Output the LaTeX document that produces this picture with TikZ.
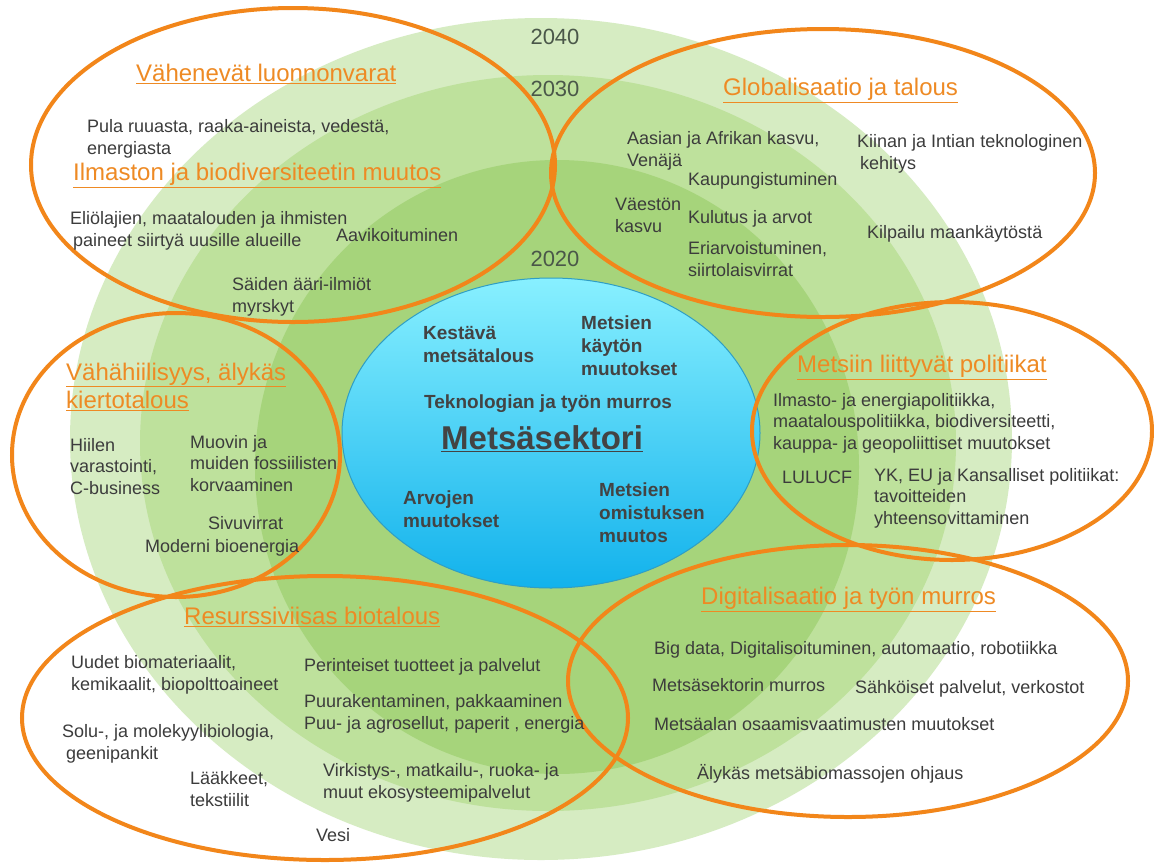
\documentclass[tikz,border=0pt]{standalone}
\usepackage{fontspec}
\setmainfont{Liberation Sans}
\definecolor{gA}{HTML}{D6ECC2}
\definecolor{gB}{HTML}{BEE19C}
\definecolor{gC}{HTML}{A6D47B}
\definecolor{orng}{HTML}{F2861A}
\definecolor{ttlc}{HTML}{EE8A24}
\definecolor{txtc}{HTML}{3C3C3C}
\definecolor{bldc}{HTML}{434343}
\definecolor{yrc}{HTML}{4A5749}
\definecolor{bTop}{HTML}{88F0FF}
\definecolor{bMid}{HTML}{4FD2F7}
\definecolor{bBot}{HTML}{12B2EC}
\definecolor{bEdge}{HTML}{2F9EC4}
\begin{document}
\begin{tikzpicture}[x=1pt,y=-1pt,
  txt/.style={font=\fontsize{18}{21.5}\selectfont, text=txtc, align=left, inner sep=0pt, anchor=base west},
  ttl/.style={font=\fontsize{24}{28.5}\selectfont, text=ttlc, align=left, inner sep=0pt, anchor=base west},
  bld/.style={font=\bfseries\fontsize{19}{23}\selectfont, text=bldc, align=left, inner sep=0pt, anchor=base west},
  yr/.style={font=\fontsize{22}{22}\selectfont, text=yrc, inner sep=0pt, anchor=base},
  ring/.style={draw=orng, line width=4pt},
]
\useasboundingbox (0,0) rectangle (1154,863);
\fill[white] (0,0) rectangle (1154,863);
% time horizons
\fill[gA] (541,439) ellipse [x radius=471pt, y radius=421pt];
\fill[gB] (548,443) ellipse [x radius=408pt, y radius=368pt];
\fill[gC] (557,467) ellipse [x radius=302pt, y radius=307pt];
% core
\shadedraw[top color=bTop, middle color=bMid, bottom color=bBot, draw=bEdge, line width=1pt]
  (551,433) ellipse [x radius=209pt, y radius=155pt];
\node[yr] (y40) at (555,44) {2040};
\node[yr] (y30) at (555,96) {2030};
\node[yr] (y20) at (555,266) {2020};
% theme rings
\draw[ring] (293,165) ellipse [x radius=262pt, y radius=157pt];
\draw[ring] (823,173) ellipse [x radius=272pt, y radius=144pt];
\draw[ring] (176,455) ellipse [x radius=164pt, y radius=142pt];
\draw[ring] (952,431) ellipse [x radius=200pt, y radius=129pt];
\draw[ring] (325,718) ellipse [x radius=303pt, y radius=142pt];
\draw[ring] (848,681) ellipse [x radius=280pt, y radius=136pt];
% titles (base = baseline of last line)
\node[ttl] (t1) at (136,81.5) {\underline{Vähenevät luonnonvarat}};
\node[ttl] (t2) at (73,180.5) {\underline{Ilmaston ja biodiversiteetin muutos}};
\node[ttl] (t3) at (723,95.5) {\underline{Globalisaatio ja talous}};
\node[ttl] (t4) at (66,408.5) {\underline{Vähähiilisyys, älykäs}\\\underline{kiertotalous}};
\node[ttl] (t5) at (797,372.5) {\underline{Metsiin liittyvät politiikat}};
\node[ttl] (t6) at (184,624.5) {\underline{Resurssiviisas biotalous}};
\node[ttl] (t7) at (701,604.5) {\underline{Digitalisaatio ja työn murros}};
% top-left
\node[txt] (a1) at (87,154) {Pula ruuasta, raaka-aineista, vedestä,\\energiasta};
\node[txt] (a2) at (70,246) {Eliölajien, maatalouden ja ihmisten\\\hspace*{3pt}paineet siirtyä uusille alueille};
\node[txt] (a3) at (336,241) {Aavikoituminen};
\node[txt] (a4) at (232,312) {Säiden ääri-ilmiöt\\myrskyt};
% top-right
\node[txt] (b1) at (627,166) {Aasian ja Afrikan kasvu,\\Venäjä};
\node[txt] (b2) at (857,169) {Kiinan ja Intian teknologinen\\\hspace*{3pt}kehitys};
\node[txt] (b3) at (688,185) {Kaupungistuminen};
\node[txt] (b4) at (615,232) {Väestön\\kasvu};
\node[txt] (b5) at (688,223) {Kulutus ja arvot};
\node[txt] (b6) at (688,276) {Eriarvoistuminen,\\siirtolaisvirrat};
\node[txt] (b7) at (867,238) {Kilpailu maankäytöstä};
% left
\node[txt] (c1) at (70,494) {Hiilen\\varastointi,\\C-business};
\node[txt] (c2) at (190,491) {Muovin ja\\muiden fossiilisten\\korvaaminen};
\node[txt] (c3) at (208,529) {Sivuvirrat};
\node[txt] (c4) at (145,552) {Moderni bioenergia};
% right
\node[txt] (d1) at (773,449) {Ilmasto- ja energiapolitiikka,\\maatalouspolitiikka, biodiversiteetti,\\kauppa- ja geopoliittiset muutokset};
\node[txt] (d2) at (782,483) {LULUCF};
\node[txt] (d3) at (874,524) {YK, EU ja Kansalliset politiikat:\\tavoitteiden\\yhteensovittaminen};
% bottom-left
\node[txt] (e1) at (71,690) {Uudet biomateriaalit,\\kemikaalit, biopolttoaineet};
\node[txt] (e2) at (304,671) {Perinteiset tuotteet ja palvelut};
\node[txt] (e3) at (304,729) {Puurakentaminen, pakkaaminen\\Puu- ja agrosellut, paperit , energia};
\node[txt] (e4) at (62,759) {Solu-, ja molekyylibiologia,\\\hspace*{4pt}geenipankit};
\node[txt] (e5) at (190,806) {Lääkkeet,\\tekstiilit};
\node[txt] (e6) at (323,798) {Virkistys-, matkailu-, ruoka- ja\\muut ekosysteemipalvelut};
\node[txt] (e7) at (316,841) {Vesi};
% bottom-right
\node[txt] (f1) at (654,654) {Big data, Digitalisoituminen, automaatio, robotiikka};
\node[txt] (f2) at (652,691) {Metsäsektorin murros};
\node[txt] (f3) at (855,693) {Sähköiset palvelut, verkostot};
\node[txt] (f4) at (654,730) {Metsäalan osaamisvaatimusten muutokset};
\node[txt] (f5) at (697,779) {Älykäs metsäbiomassojen ohjaus};
% core texts
\node[bld] (m1) at (423,362.5) {Kestävä\\metsätalous};
\node[bld] (m2) at (581,375.5) {Metsien\\käytön\\muutokset};
\node[bld] (m3) at (424,408.5) {Teknologian ja työn murros};
\node[bld, font=\bfseries\fontsize{33}{36}\selectfont] (m4) at (441,449) {\underline{Metsäsektori}};
\node[bld] (m5) at (403,527.5) {Arvojen\\muutokset};
\node[bld] (m6) at (599,542.5) {Metsien\\omistuksen\\muutos};
\end{tikzpicture}
\end{document}
